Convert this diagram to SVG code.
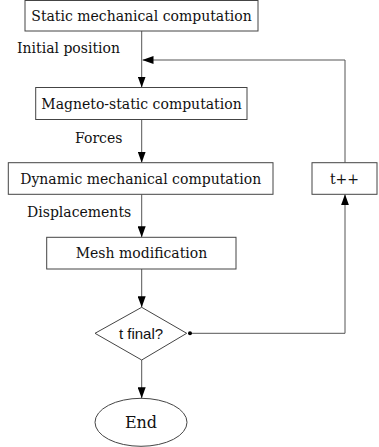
<svg xmlns="http://www.w3.org/2000/svg" width="379" height="447" viewBox="0 0 379 447">
<defs>
<style>
.box{fill:#fff;stroke:#444;stroke-width:1}
.t{font-family:"DejaVu Serif","Liberation Serif",serif;font-size:14px;fill:#111;text-anchor:middle}
.l{font-family:"DejaVu Serif","Liberation Serif",serif;font-size:14px;fill:#111;text-anchor:start}
.s{font-family:"Liberation Sans",Arial,sans-serif;font-size:15px;fill:#111;text-anchor:middle}
.c{fill:none;stroke:#555;stroke-width:1}
</style>
<marker id="ah" viewBox="0 0 11 8" refX="11" refY="4" markerWidth="11" markerHeight="8" markerUnits="userSpaceOnUse" orient="auto">
<path d="M0,0 L11,4 L0,8 z" fill="#000"/>
</marker>
</defs>
<g id="connectors">
<line class="c" x1="141.7" y1="31" x2="141.7" y2="87.5" marker-end="url(#ah)"/>
<polyline class="c" points="345,162.7 345,60 142.5,60" marker-end="url(#ah)"/>
<line class="c" x1="141.7" y1="119.5" x2="141.7" y2="162.7" marker-end="url(#ah)"/>
<line class="c" x1="141.7" y1="194.3" x2="141.7" y2="237.3" marker-end="url(#ah)"/>
<line class="c" x1="141.7" y1="269" x2="141.7" y2="307.3" marker-end="url(#ah)"/>
<polyline class="c" points="190,333.3 345,333.3 345,194.3" marker-end="url(#ah)"/>
<circle cx="190" cy="333.3" r="2" fill="#000"/>
<line class="c" x1="141.7" y1="360" x2="141.7" y2="398.3" marker-end="url(#ah)"/>
<text class="l" x="17" y="53">Initial position</text>
<text class="l" x="75" y="143">Forces</text>
<text class="l" x="27" y="217">Displacements</text>
</g>
<g id="static">
<rect class="box" x="25" y="0.5" width="233" height="30.5"/>
<text class="t" x="141.5" y="21">Static mechanical computation</text>
</g>
<g id="magneto">
<rect class="box" x="35.7" y="87.5" width="211.3" height="32"/>
<text class="t" x="141.5" y="108.5">Magneto-static computation</text>
</g>
<g id="dynamic">
<rect class="box" x="8.3" y="162.7" width="264.7" height="31.6"/>
<text class="t" x="140.7" y="183.5">Dynamic mechanical computation</text>
</g>
<g id="tpp">
<rect class="box" x="312" y="162.7" width="65" height="31.6"/>
<text class="t" x="344.5" y="183.5">t++</text>
</g>
<g id="mesh">
<rect class="box" x="46.7" y="237.3" width="189.3" height="31.7"/>
<text class="t" x="141.5" y="258">Mesh modification</text>
</g>
<g id="decision">
<polygon class="box" points="141.7,307.3 186.7,333.3 141.7,360 95,333.3"/>
<text class="s" x="141" y="338.5">t final?</text>
</g>
<g id="end">
<ellipse class="box" cx="141" cy="422.3" rx="46" ry="24"/>
<text class="t" x="141" y="428" style="font-size:16px">End</text>
</g>
</svg>
